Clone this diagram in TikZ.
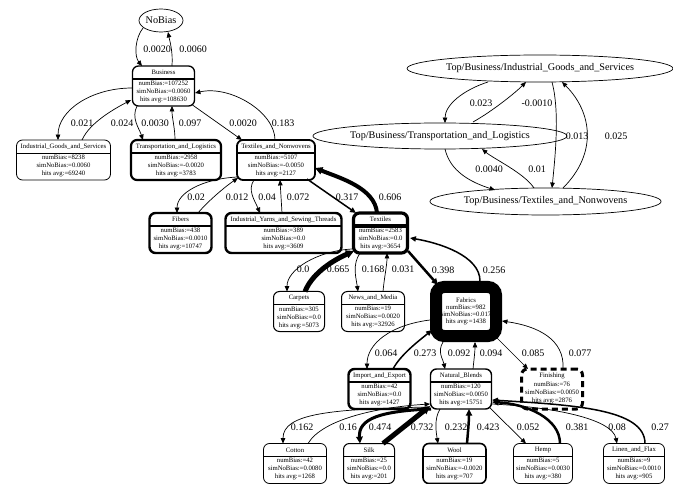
\documentclass[tikz,border=0pt]{standalone}
\usepackage{fontspec}
\setmainfont{Liberation Serif}
\usetikzlibrary{arrows.meta,calc,shapes.geometric}
\tikzset{
 rec/.style={draw, rounded corners=6pt, outer sep=0pt, inner sep=0pt, minimum height=40pt},
 rtxt/.style={font=\fontsize{6.7}{8}\selectfont, inner sep=0pt, align=center},
 lbl/.style={font=\fontsize{10}{11}\selectfont, inner sep=0pt},
 ell/.style={draw, ellipse, inner sep=0pt, outer sep=0pt, line width=0.7pt, font=\fontsize{10.2}{11}\selectfont},
 edge/.style={-{Triangle[length=5pt 0.6, width=4pt 0.8]}, line width=0.7pt},
}
% #1 name, #2 x, #3 y, #4 width, #5 line width, #6 header, #7 body
\newcommand\recnode[7]{%
  \node[rec, minimum width=#4pt, line width=#5pt] (#1) at (#2,#3) {};
  \node[rtxt] (#1-h) at (#2,#3-13.5) {#6};
  \draw[line width=#5pt] ($(#1.north west)+(0,13)$) -- ($(#1.north east)+(0,13)$);
  \node[rtxt] (#1-b) at (#2,#3+6) {#7};
}
\begin{document}
\begin{tikzpicture}[x=1pt,y=-1pt]
\useasboundingbox (0,0) rectangle (673,484);

% ellipses
\node[ell, minimum width=44pt, minimum height=23pt] (NoBias) at (161,20.5) {NoBias};
\node[ell, minimum width=214pt, minimum height=27pt] (TIGS) at (540,68.5) {Top/Business/Industrial\_Goods\_and\_Services};
\node[ell, minimum width=206pt, minimum height=26pt] (TTL) at (440,136) {Top/Business/Transportation\_and\_Logistics};
\node[ell, minimum width=189pt, minimum height=27pt] (TTN) at (545.5,201.5) {Top/Business/Textiles\_and\_Nonwovens};

% records
\recnode{Bus}{163.5}{86}{62}{1.3}{Business}{numBias:=107252\\simNoBias:=0.0060\\hits avg:=108630}
\recnode{IGS}{63.5}{160}{94}{0.8}{Industrial\_Goods\_and\_Services}{numBias:=8238\\simNoBias:=0.0060\\hits avg:=69240}
\recnode{TRL}{176}{160}{90}{2.2}{Transportation\_and\_Logistics}{numBias:=2958\\simNoBias:=-0.0020\\hits avg:=3783}
\recnode{TNW}{276}{160}{78}{1.8}{Textiles\_and\_Nonwovens}{numBias:=5107\\simNoBias:=-0.0050\\hits avg:=2127}
\recnode{FIB}{180.5}{233}{62}{2.4}{Fibers}{numBias:=438\\simNoBias:=0.0010\\hits avg:=10747}
\recnode{IYS}{283.5}{233}{116}{2.4}{Industrial\_Yarns\_and\_Sewing\_Threads}{numBias:=389\\simNoBias:=0.0\\hits avg:=3609}
\recnode{TEX}{380.5}{233}{54}{3.2}{Textiles}{numBias:=2583\\simNoBias:=0.0\\hits avg:=3654}
\recnode{CAR}{299}{311.5}{51}{1.0}{Carpets}{numBias:=305\\simNoBias:=0.0\\hits avg:=5073}
\recnode{NEW}{373}{311.5}{63}{1.0}{News\_and\_Media}{numBias:=19\\simNoBias:=0.0020\\hits avg:=32926}
\recnode{IMP}{379.5}{389}{62}{2.4}{Import\_and\_Export}{numBias:=42\\simNoBias:=0.0\\hits avg:=1427}
\recnode{NB}{461}{389}{61}{1.4}{Natural\_Blends}{numBias:=120\\simNoBias:=0.0050\\hits avg:=15751}
\recnode{COT}{295}{463.5}{63}{0.8}{Cotton}{numBias:=42\\simNoBias:=0.0080\\hits avg:=1268}
\recnode{SILK}{369}{463.5}{51}{1.0}{Silk}{numBias:=25\\simNoBias:=0.0\\hits avg:=201}
\recnode{WOOL}{454.5}{463.5}{63}{1.6}{Wool}{numBias:=19\\simNoBias:=-0.0020\\hits avg:=707}
\recnode{HEMP}{543}{463.5}{59}{0.8}{Hemp}{numBias:=5\\simNoBias:=0.0030\\hits avg:=380}
\recnode{LIN}{634}{463.5}{61}{0.8}{Linen\_and\_Flax}{numBias:=9\\simNoBias:=0.0010\\hits avg:=905}

% Finishing (dashed, no separator)
\node[rec, minimum width=61pt, line width=3pt, dash pattern=on 6pt off 4pt] (FIN) at (552,389) {};
\node[rtxt] (FIN-h) at (552,376) {Finishing};
\node[rtxt] (FIN-b) at (552,393) {numBias:=76\\simNoBias:=0.0050\\hits avg:=2876};

% Fabrics (very thick border over text)
\node[draw, rounded corners=8pt, outer sep=0pt, inner sep=0pt, minimum width=60pt, minimum height=49pt, line width=12pt,
      font=\fontsize{6.7}{7}\selectfont, align=center] (FAB) at (466,311.5) {Fabrics\\numBias:=982\\simNoBias:=0.017\\hits avg:=1438};

% ---- edges ----
\draw[edge] ($(NoBias.center)+(-18,7.5)$) .. controls +(-8,10) and +(-8,-10) .. ($(Bus.center)+(-21.5,-20)$);
\draw[edge] ($(Bus.center)+(8.5,-20)$) .. controls +(1,-14) and +(2,10) .. ($(NoBias.center)+(7,11.5)$);

\draw[edge] ($(Bus.center)+(-31.5,2)$) .. controls +(-40,0) and +(0,-30) .. ($(IGS.center)+(-5.5,-20)$);
\draw[edge] ($(IGS.center)+(18.5,-20)$) .. controls +(8,-18) and +(-15,8) .. ($(Bus.center)+(-32.5,14)$);
\draw[edge] ($(Bus.center)+(-26.5,20)$) .. controls +(-6,12) and +(-4,-12) .. ($(TRL.center)+(-33,-20)$);
\draw[edge] ($(TRL.center)+(-1,-20)$) .. controls +(0,-12) and +(0,12) .. ($(Bus.center)+(8.5,20)$);
\draw[edge] ($(Bus.center)+(29,19)$) -- ($(TNW.center)+(-34,-20)$);
\draw[edge] ($(TNW.center)+(-1,-20)$) .. controls +(0,-28) and +(35,-8) .. ($(Bus.center)+(31.5,7)$);

\draw[edge] ($(TNW.center)+(-39,17)$) .. controls +(-35,2) and +(0,-20) .. ($(FIB.center)+(-3.5,-20)$);
\draw[edge] ($(FIB.center)+(17.5,-20)$) .. controls +(10,-12) and +(-12,8) .. ($(TNW.center)+(-38,18)$);
\draw[edge] ($(TNW.center)+(-22,20)$) .. controls +(-7,10) and +(-5,-12) .. ($(IYS.center)+(-23.5,-20)$);
\draw[edge] ($(IYS.center)+(-1.5,-20)$) -- ($(TNW.center)+(4,20)$);
\draw[edge, line width=1.5pt] ($(TNW.center)+(31,19)$) -- ($(TEX.center)+(-24.5,-20)$);
\draw[edge, line width=4pt] ($(TEX.center)+(-3.5,-20)$) .. controls +(-2,-25) and +(25,10) .. ($(TNW.center)+(39,8)$);

\draw[edge] ($(TEX.center)+(-28.5,16)$) .. controls +(-35,2) and +(0,-22) .. ($(CAR.center)+(-12,-20)$);
\draw[edge, line width=5pt] ($(CAR.center)+(6,-20)$) .. controls +(8,-20) and +(-18,8) .. ($(TEX.center)+(-26.5,18)$);
\draw[edge] ($(TEX.center)+(-20.5,20)$) .. controls +(-8,12) and +(-2,-14) .. ($(NEW.center)+(-15,-20)$);
\draw[edge] ($(NEW.center)+(10,-20)$) .. controls +(1,-12) and +(0,12) .. ($(TEX.center)+(6.5,20)$);
\draw[edge, line width=2.5pt] ($(TEX.center)+(27.5,18)$) -- ($(FAB.center)+(-28,-26.5)$);
\draw[edge, line width=1.5pt] ($(FAB.center)+(14,-30.5)$) .. controls +(0,-25) and +(30,5) .. ($(TEX.center)+(29.5,5)$);

\draw[edge] ($(FAB.center)+(-36,8.5)$) .. controls +(-40,5) and +(0,-25) .. ($(IMP.center)+(-12.5,-20)$);
\draw[edge, line width=1.5pt] ($(IMP.center)+(13.5,-20)$) .. controls +(8,-15) and +(-12,10) .. ($(FAB.center)+(-34,18.5)$);
\draw[edge] ($(FAB.center)+(-23,30.5)$) .. controls +(-6,10) and +(-2,-10) .. ($(NB.center)+(-16,-20)$);
\draw[edge] ($(NB.center)+(12,-20)$) .. controls +(1,-10) and +(0,10) .. ($(FAB.center)+(9,30.5)$);
\draw[edge] ($(FAB.center)+(31,26.5)$) -- ($(FIN.center)+(-24,-20)$);
\draw[edge] ($(FIN.center)+(11,-20)$) .. controls +(2,-30) and +(35,5) .. ($(FAB.center)+(36,9.5)$);

\draw[edge] ($(NB.center)+(-31,18)$) .. controls +(-100,2) and +(0,-30) .. ($(COT.center)+(-12,-20)$);
\draw[edge] ($(COT.center)+(13,-20)$) .. controls +(15,-25) and +(-50,3) .. ($(NB.center)+(-31,15)$);
\draw[edge, line width=3pt] ($(NB.center)+(-30,20)$) .. controls +(-50,2) and +(-2,-25) .. ($(SILK.center)+(-9,-20)$);
\draw[edge, line width=5pt] ($(SILK.center)+(14,-20)$) -- ($(NB.center)+(-31,17)$);
\draw[edge] ($(NB.center)+(-21,20)$) .. controls +(-6,10) and +(-2,-12) .. ($(WOOL.center)+(-16.5,-20)$);
\draw[edge, line width=2.5pt] ($(WOOL.center)+(12.5,-20)$) .. controls +(1,-12) and +(0,12) .. ($(NB.center)+(8,20)$);
\draw[edge] ($(NB.center)+(28,18)$) -- ($(HEMP.center)+(-17,-20)$);
\draw[edge, line width=2.5pt] ($(HEMP.center)+(17,-20)$) .. controls +(0,-25) and +(35,2) .. ($(NB.center)+(31,13)$);
\draw[edge] ($(NB.center)+(31,15)$) .. controls +(60,3) and +(-5,-25) .. ($(LIN.center)+(-17,-20)$);
\draw[edge, line width=1.5pt] ($(LIN.center)+(11,-20)$) .. controls +(0,-35) and +(80,5) .. ($(NB.center)+(31,11)$);

\draw[edge] ($(TIGS.center)+(-52,13.5)$) .. controls +(-25,8) and +(0,-18) .. ($(TTL.center)+(5,-13)$);
\draw[edge] ($(TTL.center)+(33,-14)$) .. controls +(18,-10) and +(-12,12) .. ($(TIGS.center)+(-14,13.5)$);
\draw[edge] ($(TIGS.center)+(12,13.5)$) .. controls +(8,30) and +(3,-30) .. ($(TTN.center)+(6.5,-13.5)$);
\draw[edge] ($(TTN.center)+(17.5,-13.5)$) .. controls +(35,-35) and +(30,30) .. ($(TIGS.center)+(22,13.5)$);
\draw[edge] ($(TTL.center)+(5,13)$) .. controls +(5,22) and +(-25,-8) .. ($(TTN.center)+(-50.5,-11.5)$);
\draw[edge] ($(TTN.center)+(-11.5,-13.5)$) .. controls +(-10,-15) and +(12,10) .. ($(TTL.center)+(42,13)$);

% ---- labels ----
\node[lbl] (la) at (157,49) {0.0020};
\node[lbl] (lb) at (193,49) {0.0060};
\node[lbl] (lc) at (82,123) {0.021};
\node[lbl] (ld) at (122,123) {0.024};
\node[lbl] (le) at (155,123) {0.0030};
\node[lbl] (lf) at (190,123) {0.097};
\node[lbl] (lg) at (243,123) {0.0020};
\node[lbl] (lh) at (283,123) {0.183};
\node[lbl] (li) at (196,197) {0.02};
\node[lbl] (lj) at (237,197) {0.012};
\node[lbl] (lk) at (267,197) {0.04};
\node[lbl] (ll) at (298,197) {0.072};
\node[lbl] (lm) at (347,197) {0.317};
\node[lbl] (ln) at (390,197) {0.606};
\node[lbl] (lo) at (303,269) {0.0};
\node[lbl] (lp) at (338,269) {0.665};
\node[lbl] (lq) at (373,269) {0.168};
\node[lbl] (lr) at (403,269) {0.031};
\node[lbl] (ls) at (443,270) {0.398};
\node[lbl] (lt) at (494,270) {0.256};
\node[lbl] (lu) at (386,353) {0.064};
\node[lbl] (lv) at (425,353) {0.273};
\node[lbl] (lw) at (459,353) {0.092};
\node[lbl] (lx) at (491,353) {0.094};
\node[lbl] (ly) at (533,353) {0.085};
\node[lbl] (lz) at (580,353) {0.077};
\node[lbl] (m1) at (302,427) {0.162};
\node[lbl] (m2) at (348,427) {0.16};
\node[lbl] (m3) at (380,427) {0.474};
\node[lbl] (m4) at (422,427) {0.732};
\node[lbl] (m5) at (456,427) {0.232};
\node[lbl] (m6) at (488,427) {0.423};
\node[lbl] (m7) at (528,427) {0.052};
\node[lbl] (m8) at (577,427) {0.381};
\node[lbl] (m9) at (617,427) {0.08};
\node[lbl] (m10) at (660,427) {0.27};
\node[lbl] (r1) at (481,103) {0.023};
\node[lbl] (r2) at (537,103) {-0.0010};
\node[lbl] (r3) at (577,136) {0.013};
\node[lbl] (r4) at (616,136) {0.025};
\node[lbl] (r5) at (489,169) {0.0040};
\node[lbl] (r6) at (537,169) {0.01};
\end{tikzpicture}
\end{document}
